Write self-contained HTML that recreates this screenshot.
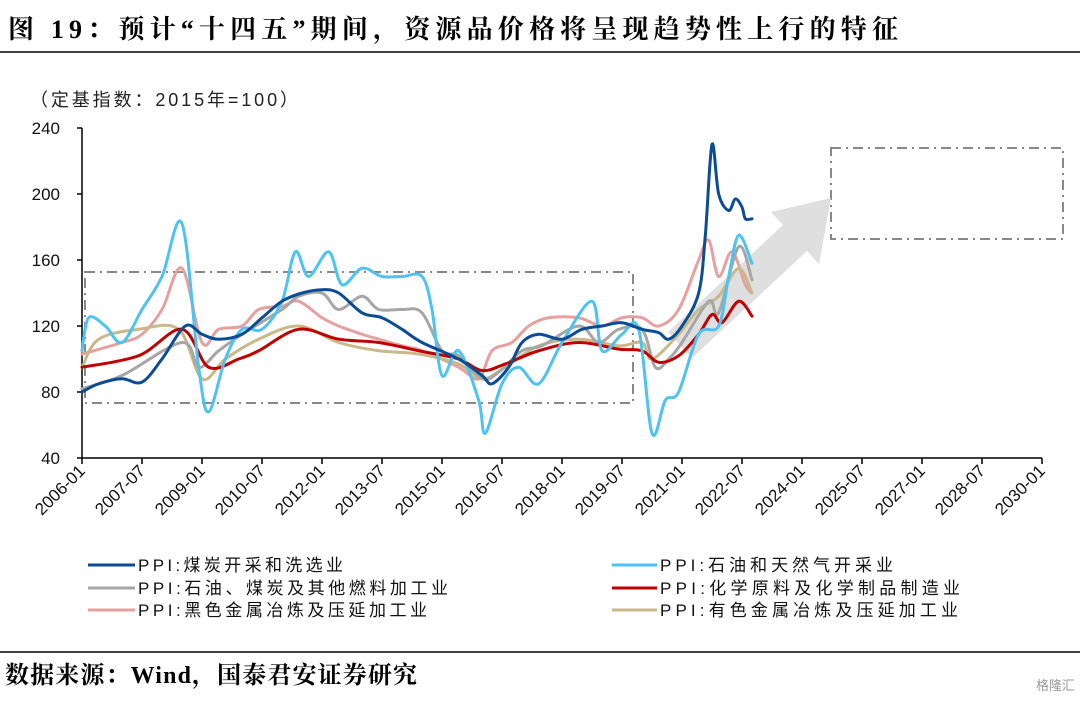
<!DOCTYPE html>
<html><head><meta charset="utf-8">
<style>
body{margin:0;background:#fff;}
svg text{font-family:"Liberation Sans","Noto Sans CJK SC",sans-serif;}
</style></head>
<body>
<svg id="s" width="1080" height="700" xmlns="http://www.w3.org/2000/svg">
<text x="8" y="38" style="font-family:'Liberation Serif','Noto Serif CJK SC',serif" font-size="26" font-weight="bold" fill="#000" textLength="890" lengthAdjust="spacing">图 19：预计“十四五”期间，资源品价格将呈现趋势性上行的特征</text>
<line x1="0" y1="52" x2="1080" y2="52" stroke="#000" stroke-width="1.5"/>
<text x="30" y="106" font-size="18" fill="#222" textLength="268" lengthAdjust="spacing">（定基指数：2015年=100）</text>
<g font-size="17" fill="#111" text-anchor="end">
<text x="60" y="134">240</text><text x="60" y="200">200</text><text x="60" y="266">160</text>
<text x="60" y="332">120</text><text x="60" y="398">80</text><text x="60" y="464">40</text>
</g>
<g stroke="#000" stroke-width="1.5">
<line x1="82" y1="128" x2="82" y2="458"/>
<line x1="82" y1="458" x2="1042" y2="458"/>
</g>
<g id="yt" stroke="#000" stroke-width="1.5"></g>
<g id="xt" stroke="#000" stroke-width="1.5"></g>
<g id="xl" font-size="17" fill="#111" text-anchor="end"></g>
<g fill="none" stroke="#888" stroke-width="2" stroke-dasharray="10,5,2,5">
<rect x="85" y="272" width="548" height="131"/>
<rect x="831" y="148" width="232" height="91"/>
</g>
<polygon points="692,358 807,251 819,264 831,198 771,212 783,225 668,332" fill="#d9d9d9" opacity="0.85"/>
<g id="series" fill="none" stroke-width="3" stroke-linejoin="round" stroke-linecap="round"></g>
<g font-size="17" fill="#111">
<line x1="88" y1="565" x2="135" y2="565" stroke="#0B4C94" stroke-width="3"/><text x="138" y="571" textLength="205" lengthAdjust="spacing">PPI:煤炭开采和洗选业</text>
<line x1="88" y1="588" x2="135" y2="588" stroke="#A6A6A6" stroke-width="3"/><text x="138" y="594" textLength="310" lengthAdjust="spacing">PPI:石油、煤炭及其他燃料加工业</text>
<line x1="88" y1="610" x2="135" y2="610" stroke="#E6A0A0" stroke-width="3"/><text x="138" y="616" textLength="289" lengthAdjust="spacing">PPI:黑色金属冶炼及压延加工业</text>
<line x1="612" y1="565" x2="657" y2="565" stroke="#4FC3F0" stroke-width="3"/><text x="660" y="571" textLength="233" lengthAdjust="spacing">PPI:石油和天然气开采业</text>
<line x1="612" y1="588" x2="657" y2="588" stroke="#C00000" stroke-width="3"/><text x="660" y="594" textLength="300" lengthAdjust="spacing">PPI:化学原料及化学制品制造业</text>
<line x1="612" y1="610" x2="657" y2="610" stroke="#C8B88A" stroke-width="3"/><text x="660" y="616" textLength="298" lengthAdjust="spacing">PPI:有色金属冶炼及压延加工业</text>
</g>
<line x1="0" y1="652" x2="1080" y2="652" stroke="#000" stroke-width="1.5"/>
<text x="5" y="683" style="font-family:'Liberation Serif','Noto Serif CJK SC',serif" font-size="24" font-weight="bold" fill="#000" textLength="412" lengthAdjust="spacing">数据来源：Wind，国泰君安证券研究</text>
<text x="1075" y="690" text-anchor="end" font-size="13" fill="#999">格隆汇</text>
</svg>
<script>
var NS="http://www.w3.org/2000/svg";
function el(p,t,a,txt){var e=document.createElementNS(NS,t);for(var k in a)e.setAttribute(k,a[k]);if(txt)e.textContent=txt;document.getElementById(p).appendChild(e);}
function X(y,m){return 82+((y-2006)*12+(m-1))*960/288;}
function Y(v){return 458-(v-40)*1.65;}
[240,200,160,120,80,40].forEach(function(v){el("yt","line",{x1:77,x2:82,y1:Y(v),y2:Y(v)});});
for(var i=0;i<=16;i++){var mm=i*18,yy=2006+Math.floor(mm/12),mo=mm%12+1;var x=82+mm*960/288;
el("xt","line",{x1:x,x2:x,y1:458,y2:464});
el("xl","text",{x:x+4,y:472,transform:"rotate(-45 "+(x+4)+" 472)"},yy+"-"+(mo<10?"0":"")+mo);}
function P(s){var a=s.trim().split(/\s+/).map(function(t){var q=t.split(/[:,]/);return [X(+q[0],+q[1]),Y(+q[2])];});
var d="M"+a[0][0]+","+a[0][1];for(var i=0;i<a.length-1;i++){var p0=a[i-1]||a[i],p1=a[i],p2=a[i+1],p3=a[i+2]||p2;
d+=" C"+(p1[0]+(p2[0]-p0[0])/6)+","+(p1[1]+(p2[1]-p0[1])/6)+" "+(p2[0]-(p3[0]-p1[0])/6)+","+(p2[1]-(p3[1]-p1[1])/6)+" "+p2[0]+","+p2[1];}return d;}
var S=[
["#E6A0A0","2006:1,103 2007:1,110 2007:7,115 2008:1,130 2008:7,155 2009:1,110 2009:6,118 2010:1,120 2010:6,130 2011:1,132 2011:6,135 2012:1,125 2012:6,120 2013:1,115 2013:6,112 2014:1,108 2014:7,105 2015:6,95 2015:12,88 2016:4,105 2016:10,110 2017:3,120 2017:9,125 2018:6,125 2019:1,120 2019:7,125 2020:1,125 2020:6,120 2020:12,130 2021:6,160 2021:9,172 2021:12,150 2022:4,165 2022:8,145 2022:10,140"],
["#C8B88A","2006:1,95 2006:6,112 2007:6,118 2008:6,118 2009:1,88 2009:8,100 2010:6,112 2011:6,120 2012:6,110 2013:6,105 2014:6,103 2015:6,97 2016:1,88 2016:8,95 2017:6,108 2018:6,112 2019:6,108 2020:1,110 2020:4,100 2020:12,115 2021:6,130 2021:12,138 2022:6,155 2022:10,140"],
["#A6A6A6","2006:1,82 2007:1,90 2008:7,110 2008:12,95 2009:6,105 2010:1,115 2011:1,130 2011:6,138 2012:1,140 2012:6,130 2013:1,138 2013:6,130 2014:1,130 2014:7,128 2015:1,105 2015:6,102 2016:1,88 2016:6,92 2017:1,105 2017:7,108 2018:6,120 2018:12,110 2019:6,118 2020:1,118 2020:5,95 2020:9,100 2021:1,110 2021:9,135 2021:12,128 2022:6,168 2022:10,148"],
["#C00000","2006:1,95 2007:6,102 2008:7,118 2009:3,95 2009:12,100 2010:6,105 2011:6,118 2012:6,112 2013:6,110 2014:6,105 2015:6,100 2016:1,93 2016:8,97 2017:6,105 2018:6,110 2019:6,106 2020:1,105 2020:6,98 2020:12,102 2021:6,115 2021:10,127 2022:1,122 2022:6,135 2022:10,126"],
["#4FC3F0","2006:1,105 2006:3,125 2006:8,120 2007:1,110 2007:7,130 2008:1,150 2008:7,182 2008:12,95 2009:3,68 2009:8,100 2010:1,118 2010:7,118 2011:1,135 2011:5,165 2011:9,150 2012:3,165 2012:7,145 2013:1,155 2013:7,150 2014:1,150 2014:7,150 2014:10,130 2015:1,90 2015:6,105 2015:12,75 2016:2,55 2016:7,85 2016:12,95 2017:6,85 2018:1,110 2018:10,135 2019:1,105 2019:7,115 2019:12,118 2020:4,55 2020:8,75 2020:12,80 2021:6,115 2021:12,120 2022:3,150 2022:6,175 2022:10,158"],
["#0B4C94","2006:1,80 2006:6,85 2007:1,88 2007:7,86 2008:1,100 2008:8,120 2009:1,115 2009:6,112 2010:1,115 2010:7,125 2011:1,135 2011:7,140 2012:1,142 2012:6,140 2013:1,128 2013:7,125 2014:1,118 2014:7,110 2015:6,100 2016:1,90 2016:4,85 2016:9,95 2017:1,110 2017:6,115 2018:1,112 2018:7,118 2019:1,120 2019:7,122 2020:1,118 2020:6,116 2020:9,112 2021:1,120 2021:6,140 2021:8,175 2021:10,230 2021:12,200 2022:3,190 2022:5,197 2022:7,192 2022:8,185 2022:10,185"]];
S.forEach(function(s){el("series","path",{d:P(s[1]),stroke:s[0]});});
</script>
</body></html>
